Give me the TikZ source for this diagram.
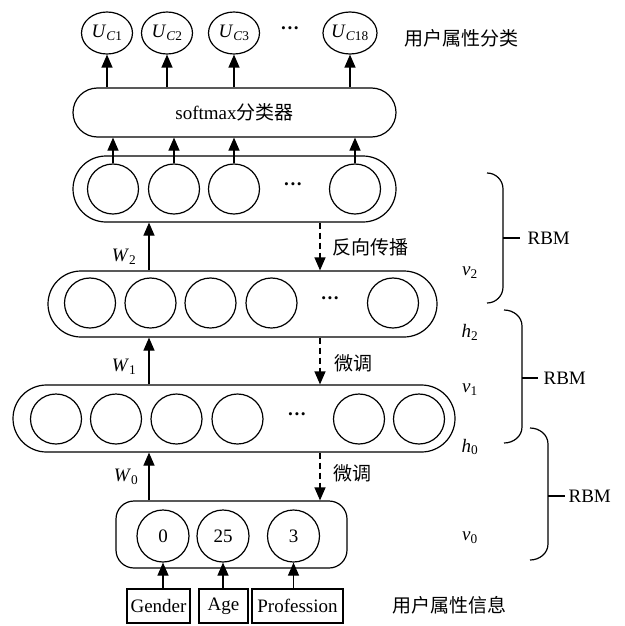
\documentclass[tikz,border=0pt]{standalone}
\usepackage{fontspec}
\setmainfont{Liberation Serif}
\newfontfamily\cjk{Noto Sans CJK SC}
\usetikzlibrary{shapes.geometric,shapes.misc,arrows.meta}
\newcommand{\isub}[2]{\textit{#1}\textsubscript{#2}}
\begin{document}
\begin{tikzpicture}[x=1pt,y=-1pt, font=\fontsize{19}{22}\selectfont, line width=1.2pt,
 neuron/.style={draw, ellipse, minimum width=51pt, minimum height=50pt, inner sep=0pt},
 outnode/.style={draw, ellipse, minimum width=51pt, minimum height=42pt, inner sep=0pt},
 layerbox/.style={draw, rounded rectangle, inner sep=0pt},
 inbox/.style={draw, rectangle, minimum height=34pt, inner sep=0pt},
 arr/.style={-{Triangle[length=13pt,width=11pt]}},
 darr/.style={-{Triangle[length=13pt,width=11pt]}, dash pattern=on 6pt off 4pt},
 lbl/.style={anchor=west, inner sep=0pt},
 dots/.style={inner sep=0pt, font=\fontsize{19}{22}\selectfont\bfseries},
 brace/.style={line width=1.2pt}
]
\useasboundingbox (0,0) rectangle (624,626);

% output nodes
\node[outnode] (u1) at (107,33) {\textit{U}\textsubscript{\textit{C}1}};
\node[outnode] (u2) at (167,33) {\textit{U}\textsubscript{\textit{C}2}};
\node[outnode] (u3) at (234,33) {\textit{U}\textsubscript{\textit{C}3}};
\node[dots] (ud) at (290,31) {···};
\node[outnode, minimum width=54pt] (u4) at (350,33) {\textit{U}\textsubscript{\textit{C}18}};
\node[lbl] (t1) at (404,38) {\cjk 用户属性分类};

% softmax
\node[layerbox, minimum width=323pt, minimum height=49pt] (sm) at (234.5,112.5) {softmax{\cjk 分类器}};
\foreach \n in {u1,u2,u3,u4} \draw[arr] (\n.south |- sm.north) -- (\n.south);

% layer 3
\node[layerbox, minimum width=323pt, minimum height=66pt] (L3) at (234.5,189) {};
\node[neuron] (a1) at (113,189) {};
\node[neuron] (a2) at (174,189) {};
\node[neuron] (a3) at (234,189) {};
\node[dots] (ad) at (293,187) {···};
\node[neuron] (a4) at (355,189) {};
\foreach \n in {a1,a2,a3,a4} \draw[arr] (\n.north) -- (\n.north |- sm.south);

% layer 2
\node[layerbox, minimum width=389pt, minimum height=66pt] (L2) at (242.5,304) {};
\node[neuron] (b1) at (90,303) {};
\node[neuron] (b2) at (150.5,303) {};
\node[neuron] (b3) at (210.5,303) {};
\node[neuron] (b4) at (271.5,303) {};
\node[dots] (bd) at (330,301) {···};
\node[neuron] (b5) at (393,303) {};

% layer 1
\node[layerbox, minimum width=442pt, minimum height=67pt] (L1) at (234,418.5) {};
\node[neuron] (c1) at (56,419) {};
\node[neuron] (c2) at (116,419) {};
\node[neuron] (c3) at (176.5,419) {};
\node[neuron] (c4) at (237.5,419) {};
\node[dots] (cd) at (297,417) {···};
\node[neuron] (c5) at (359,419) {};
\node[neuron] (c6) at (419,419) {};

% input layer
\node[draw, rectangle, rounded corners=18pt, minimum width=231pt, minimum height=67pt] (B) at (231.5,534.5) {};
\node[neuron, minimum height=52pt, minimum width=52pt] (d1) at (163,536) {0};
\node[neuron, minimum height=52pt, minimum width=52pt] (d2) at (223,536) {25};
\node[neuron, minimum height=52pt, minimum width=52pt] (d3) at (293.5,536) {3};

\node[inbox, minimum width=63pt] (g) at (158.5,606) {Gender};
\node[inbox, minimum width=49pt] (ag) at (223.5,606) {Age};
\node[inbox, minimum width=91pt] (pr) at (297.5,606) {Profession};
\draw[arr] (d1 |- g.north) -- (d1.south);
\draw[arr] (d2 |- ag.north) -- (d2.south);
\draw[arr] (d3 |- pr.north) -- (d3.south);
\node[lbl] (t2) at (392,605) {\cjk 用户属性信息};

% weights and fine tuning
\coordinate (wx) at (149,0);
\coordinate (dx) at (320,0);
\draw[arr] (wx |- L2.north) -- (wx |- L3.south);
\draw[arr] (wx |- L1.north) -- (wx |- L2.south);
\draw[arr] (wx |- B.north) -- (wx |- L1.south);
\draw[darr] (dx |- L3.south) -- (dx |- L2.north);
\draw[darr] (dx |- L2.south) -- (dx |- L1.north);
\draw[darr] (dx |- L1.south) -- (dx |- B.north);
\node (w2) at (124,257) {\isub{W}{2}};
\node (w1) at (124,367) {\isub{W}{1}};
\node (w0) at (126,477) {\isub{W}{0}};
\node[lbl] (f2) at (332,247) {\cjk 反向传播};
\node[lbl] (f1) at (334,363) {\cjk 微调};
\node[lbl] (f0) at (333,473) {\cjk 微调};

% right labels
\node (v2) at (470,273) {\isub{v}{2}};
\node (h2) at (470,332) {\isub{h}{2}};
\node (v1) at (470,390) {\isub{v}{1}};
\node (h0) at (470,447) {\isub{h}{0}};
\node (v0) at (470,538) {\isub{v}{0}};

% braces
\draw[brace] (487,173) to[out=0,in=90] (503,189) -- (503,287) to[out=-90,in=0] (487,303);
\draw[brace] (503,238) -- (520,238);
\node[lbl] (r1) at (527,238) {RBM};
\draw[brace] (504,310) to[out=0,in=90] (522,326) -- (522,427) to[out=-90,in=0] (504,443);
\draw[brace] (522,378) -- (538,378);
\node[lbl] (r2) at (543,378) {RBM};
\draw[brace] (530,428) to[out=0,in=90] (548,444) -- (548,544) to[out=-90,in=0] (530,560);
\draw[brace] (548,496) -- (565,496);
\node[lbl] (r3) at (568,496) {RBM};
\end{tikzpicture}
\end{document}
